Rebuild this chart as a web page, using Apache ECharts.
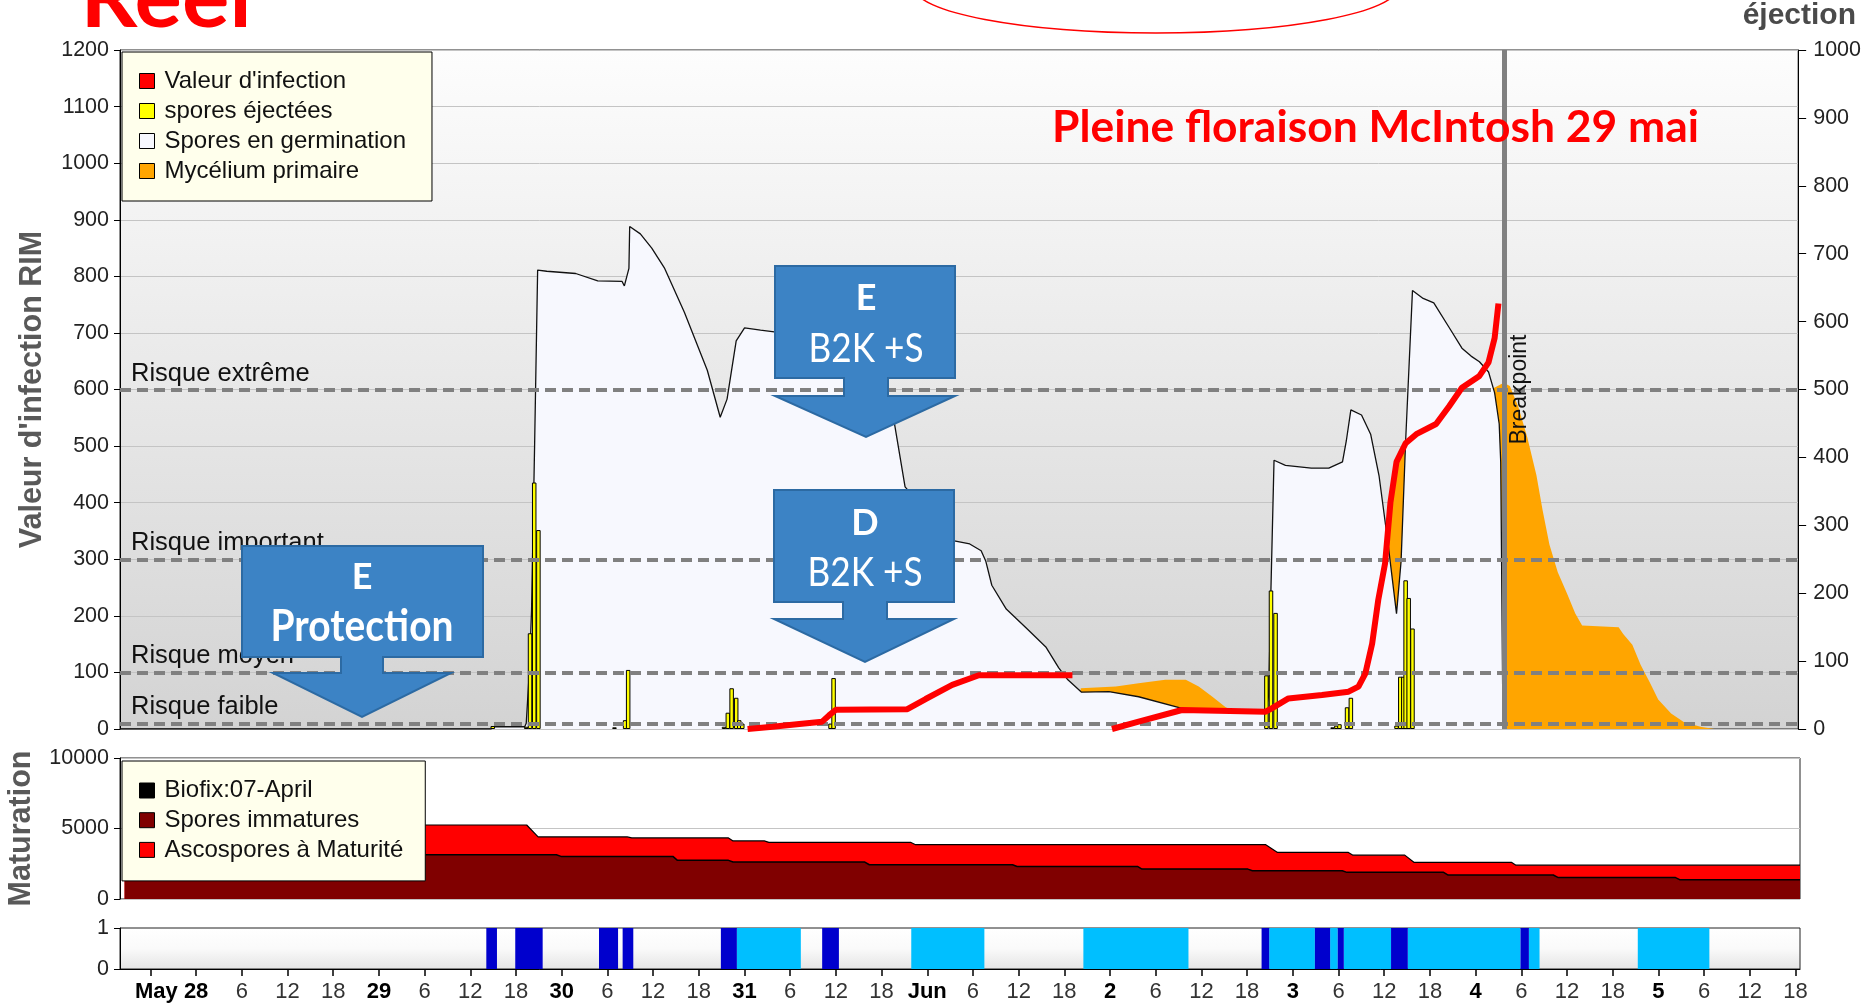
<!DOCTYPE html>
<html><head><meta charset="utf-8">
<script src="https://cdn.jsdelivr.net/npm/echarts@6/dist/echarts.min.js"></script>
<style>html,body{margin:0;padding:0;background:#fff;}#c{width:1864px;height:1008px;}</style>
</head><body><div id="c"></div>
<script>
// ---------- DATA (hours from May 28 00:00) ----------
const germination = [[-10,0],[38.8,0],[39,4],[43.2,4],[43.4,10],[43.8,100],[44.1,210],[44.5,500],[44.9,811],[46.1,809],[49.9,805],[52.8,792],[56.0,791],[56.3,783],[56.9,814],[57.0,888],[58.4,875],[59.9,850],[61.6,814],[64.2,736],[67.2,634],[68.9,551],[69.8,583],[71.0,686],[72.1,709],[74.2,705],[76.0,702],[80,690],[84,662],[86,640],[88,610],[90,575],[91.8,540],[93.2,428],[95,400],[97,365],[99.5,333],[101.7,327],[103.2,315],[103.8,297],[104.6,254],[106.5,212],[109.4,175],[111.7,145],[113.4,108],[114.6,87],[116.4,65],[120.0,66],[123.9,57],[129.6,36.5],[140.6,30.6],[141.0,60],[141.3,250],[141.7,475],[143.2,466],[146.6,461],[148.9,461],[150.7,472],[151.2,509],[151.8,564],[153.2,555],[154.4,521],[155.5,448],[156.7,326],[157.8,204],[158.4,296],[159.0,509],[159.9,775],[161.3,761],[162.7,753],[164.7,710],[166.4,673],[167.6,659],[168.7,649],[169.9,631],[170.7,594],[171.3,539],[171.5,472],[171.8,0]];
const mycelium = [[-10,0],[115.6,0],[116.3,72],[120.9,75],[123.9,81],[127.4,87],[130.1,87],[131.8,75],[133.6,57],[135.3,39],[136.5,30],[141,30],[145,60],[150,150],[153,250],[156,330],[157.8,470],[159,510],[162,540],[166,570],[171.9,612],[172.7,606],[173.8,570],[175.0,515],[176.2,448],[177.0,387],[177.9,326],[179.0,277],[180.2,240],[181.3,204],[182.2,183],[187.0,180],[187.6,168],[188.8,149],[189.9,113],[191.1,82],[192.2,52],[193.9,27.5],[195.6,12],[197.9,3.5],[199.6,0],[210.6,0]];
const infectionSeg1 = [[72.5,0],[75.8,4],[79.3,9],[82.3,13],[83.2,24],[84.1,34],[93.5,35],[95.9,53],[99.4,78],[102.9,95],[115.2,95]];
const infectionSeg2 = [[120.4,0],[123.9,13],[129.6,33.6],[140.6,30.6],[141.4,36.5],[143.6,54],[148.0,60],[151.5,66],[152.8,75],[153.7,98],[154.6,151],[155.4,228],[156.3,293],[157.0,400],[157.8,472],[159.0,505],[160.4,521],[163.0,539],[164.7,570],[166.4,603],[168.7,624],[169.9,648],[170.7,691],[171.2,752]];
const sporesEjected = [[39.0,4.4],[43.4,3.3],[43.9,141],[44.45,363],[45.0,293],[55.0,2.5],[56.4,13],[56.8,87],[69.4,3.3],[69.9,24],[70.4,60],[71.0,46],[71.4,13],[71.8,8],[83.4,8],[83.8,75],[140.7,79],[141.3,204],[141.9,171],[149.4,2.5],[149.9,5],[150.3,7],[151.3,32],[151.8,46],[157.8,5],[158.3,77],[158.7,77],[159.0,219],[159.4,193],[159.9,148]];
const maturationTotal = [[-9.4,5250],[43.4,5250],[44.9,4400],[56.6,4400],[57.2,4330],[69.9,4330],[70.5,4120],[74.6,4120],[75.2,4020],[93.8,4020],[94.4,3860],[140.4,3860],[142.0,3300],[151.3,3300],[151.9,3110],[158.7,3110],[159.9,2600],[172.7,2600],[173.3,2400],[210.6,2400]];
const sporesImmatures = [[-9.4,3140],[47.3,3140],[47.9,3020],[62.6,3020],[63.2,2740],[69.9,2740],[70.5,2620],[87.8,2620],[88.4,2430],[107.2,2430],[107.8,2310],[123.6,2310],[124.2,2120],[138.1,2120],[138.7,2000],[150.5,2000],[151.1,1890],[163.8,1890],[164.4,1700],[178.2,1700],[178.8,1530],[194.2,1530],[194.8,1370],[210.6,1370]];
const biofix = [];
const wetLight = [[71.0,79.4],[93.9,103.5],[116.5,130.3],[140.9,146.9],[148.9,149.9],[150.7,156.9],[159.1,173.9],[175.0,176.4],[189.3,198.7]];
const wetDark = [[38.1,39.5],[41.9,45.5],[52.9,55.4],[56.0,57.4],[68.9,71.0],[82.2,84.4],[139.9,140.9],[146.9,148.9],[149.9,150.7],[156.9,159.1],[173.9,175.0]];
const tickLabels = ['May 28','6','12','18','29','6','12','18','30','6','12','18','31','6','12','18','Jun','6','12','18','2','6','12','18','3','6','12','18','4','6','12','18','5','6','12','18'];
const riskLevels = [10, 100, 300, 600];
const riskNames = ['Risque faible','Risque moyen','Risque important','Risque extrême'];
const breakpointHour = 172;

// ---------- CHART ----------
const FONT = "'Liberation Sans', Arial, sans-serif";
const CAL = "Lato, 'Open Sans', sans-serif";
const labelHours = tickLabels.map((_, i) => i * 6);
const tickHours = [-6].concat(labelHours);
const X_MIN = -10, X_MAX = 210.6;
const plain = (v) => String(v);

const mctx = document.createElement('canvas').getContext('2d');
function fitScale(text, font, target) { mctx.font = font; const w = mctx.measureText(text).width; return w ? target / w : 1; }
function txt(text, x, y, font, fill, align, target, extra) {
  const e = { type: 'text', x: x, y: y, z: 101, style: { text: text, font: font, fill: fill, align: align || 'center', verticalAlign: 'middle' } };
  if (target) e.scaleX = fitScale(text, font, target);
  return Object.assign(e, extra || {});
}
function arrow(x1, x2, yTop, yBox, sL, sR, yStem, hL, hR, tipX, tipY) {
  return { type: 'polygon', z: 100, shape: { points: [[x1,yTop],[x2,yTop],[x2,yBox],[sR,yBox],[sR,yStem],[hR,yStem],[tipX,tipY],[hL,yStem],[sL,yStem],[sL,yBox],[x1,yBox]] },
    style: { fill: '#3c83c5', stroke: '#2c6aa3', lineWidth: 2 } };
}
function wetRender(color) {
  return function (params, api) {
    const s = api.coord([api.value(0), 1]);
    const e = api.coord([api.value(1), 0]);
    return { type: 'rect', shape: { x: s[0], y: s[1], width: e[0] - s[0], height: e[1] - s[1] }, style: { fill: color } };
  };
}

const chart = echarts.init(document.getElementById('c'));
const hidX = (gi) => ({ type: 'value', gridIndex: gi, min: X_MIN, max: X_MAX, show: false });
const yLine = { show: true, onZero: false, lineStyle: { color: '#000' } };

const option = {
  animation: false,
  backgroundColor: '#ffffff',
  grid: [
    { left: 120, top: 50, width: 1680, height: 679, show: true, borderColor: '#222', borderWidth: 1,
      backgroundColor: new echarts.graphic.LinearGradient(0, 0, 0, 1, [{ offset: 0, color: '#fdfdfd' }, { offset: 1, color: '#d3d3d3' }]) },
    { left: 120, top: 758, width: 1680, height: 141, show: true, borderColor: '#222', borderWidth: 1, backgroundColor: '#ffffff' },
    { left: 120, top: 928, width: 1680, height: 41, show: true, borderColor: '#222', borderWidth: 1,
      backgroundColor: new echarts.graphic.LinearGradient(0, 0, 0, 1, [{ offset: 0, color: '#ffffff' }, { offset: 0.5, color: '#fafafa' }, { offset: 1, color: '#e4e4e4' }]) }
  ],
  xAxis: [
    hidX(0), hidX(1),
    { type: 'value', gridIndex: 2, min: X_MIN, max: X_MAX,
      axisLine: { show: true, onZero: false, lineStyle: { color: '#000', width: 1 } },
      axisTick: { show: true, customValues: tickHours, length: 7, lineStyle: { color: '#000', width: 1.5 } },
      axisLabel: { show: true, customValues: labelHours, margin: 12, fontSize: 22, color: '#333', fontFamily: FONT,
        formatter: function (v) {
          const i = Math.round(v / 6); const t = tickLabels[i];
          if (i === 0) return '{first|' + t + '}';
          if (i % 4 === 0) return '{day|' + t + '}';
          return t;
        },
        rich: {
          day: { fontWeight: 'bold', color: '#000', fontSize: 22, fontFamily: FONT },
          first: { fontWeight: 'bold', color: '#000', fontSize: 22, fontFamily: FONT, padding: [0, 49, 0, 0] }
        } },
      splitLine: { show: false } }
  ],
  yAxis: [
    { type: 'value', gridIndex: 0, min: 0, max: 1200, interval: 100,
      axisLine: yLine, axisTick: { show: true, length: 6, lineStyle: { color: '#000' } },
      axisLabel: { fontSize: 21.5, color: '#222', margin: 11, fontFamily: FONT, formatter: plain },
      splitLine: { show: true, lineStyle: { color: '#c4c4c4', width: 1 } } },
    { type: 'value', gridIndex: 0, position: 'right', min: 0, max: 1000, interval: 100,
      axisLine: yLine, axisTick: { show: true, length: 8, lineStyle: { color: '#000' } },
      axisLabel: { fontSize: 21.5, color: '#222', margin: 15, fontFamily: FONT, formatter: plain }, splitLine: { show: false } },
    { type: 'value', gridIndex: 1, min: 0, max: 10000, interval: 5000,
      axisLine: yLine, axisTick: { show: true, length: 6, lineStyle: { color: '#000' } },
      axisLabel: { fontSize: 21.5, color: '#222', margin: 11, fontFamily: FONT, formatter: plain },
      splitLine: { show: true, lineStyle: { color: '#c4c4c4', width: 1 } } },
    { type: 'value', gridIndex: 2, min: 0, max: 1, interval: 1,
      axisLine: yLine, axisTick: { show: true, length: 6, lineStyle: { color: '#000' } },
      axisLabel: { fontSize: 21.5, color: '#222', margin: 11, fontFamily: FONT, formatter: plain }, splitLine: { show: false } }
  ],
  legend: [
    { orient: 'vertical', left: 122, top: 52, icon: 'rect', itemWidth: 15, itemHeight: 15, itemGap: 6,
      padding: [17, 26, 18, 17], backgroundColor: '#ffffec', borderColor: '#000', borderWidth: 1, selectedMode: false,
      itemStyle: { borderColor: '#000', borderWidth: 1 },
      textStyle: { fontSize: 24, color: '#111', fontFamily: FONT, padding: [0, 0, 0, 5] },
      data: [ { name: "Valeur d'infection", itemStyle: { color: '#ff0000' } }, { name: 'spores éjectées', itemStyle: { color: '#ffff00' } },
              { name: 'Spores en germination', itemStyle: { color: '#f7f8fe' } }, { name: 'Mycélium primaire', itemStyle: { color: '#ffa500' } } ] },
    { orient: 'vertical', left: 122, top: 761, icon: 'rect', itemWidth: 15, itemHeight: 15, itemGap: 5.7,
      padding: [17.5, 22, 19, 17], backgroundColor: '#ffffec', borderColor: '#000', borderWidth: 1, selectedMode: false,
      itemStyle: { borderColor: '#000', borderWidth: 1 },
      textStyle: { fontSize: 24, color: '#111', fontFamily: FONT, padding: [0, 0, 0, 5] },
      data: [ { name: 'Biofix:07-April', itemStyle: { color: '#000000' } }, { name: 'Spores immatures', itemStyle: { color: '#800000' } },
              { name: 'Ascospores à Maturité', itemStyle: { color: '#ff0000' } } ] }
  ],
  series: [
    { name: 'Mycélium primaire', type: 'line', xAxisIndex: 0, yAxisIndex: 0, data: mycelium, symbol: 'none', z: 2,
      itemStyle: { color: '#ffa500' }, lineStyle: { width: 0, color: '#ffa500' }, areaStyle: { color: '#ffa500', opacity: 1 } },
    { name: 'Spores en germination', type: 'line', xAxisIndex: 0, yAxisIndex: 0, data: germination, symbol: 'none', z: 3,
      itemStyle: { color: '#f7f8fe' }, lineStyle: { width: 1.3, color: '#111' }, areaStyle: { color: '#f7f8fe', opacity: 1 } },
    { name: 'spores éjectées', type: 'bar', xAxisIndex: 0, yAxisIndex: 1, data: sporesEjected, barWidth: 4.5, z: 4,
      itemStyle: { color: '#ffff00', borderColor: '#000', borderWidth: 1 } },
    { name: "Valeur d'infection", type: 'line', xAxisIndex: 0, yAxisIndex: 0, data: infectionSeg1, symbol: 'none', z: 5,
      itemStyle: { color: '#ff0000' }, lineStyle: { width: 6, color: '#ff0000' } },
    { name: "Valeur d'infection", type: 'line', xAxisIndex: 0, yAxisIndex: 0, data: infectionSeg2, symbol: 'none', z: 5,
      itemStyle: { color: '#ff0000' }, lineStyle: { width: 6, color: '#ff0000' } },
    { name: 'marks', type: 'line', xAxisIndex: 0, yAxisIndex: 0, data: [], z: 20, silent: true,
      markLine: { symbol: ['none', 'none'], silent: true, animation: false,
        data: [ { xAxis: breakpointHour, lineStyle: { color: '#808080', width: 5, type: 'solid' },
                  label: { show: true, formatter: 'Breakpoint', position: 'insideMiddleBottom', distance: [0, 4], fontSize: 23, color: '#111', fontFamily: FONT } } ]
          .concat(riskLevels.map((v, i) => ({ yAxis: v, lineStyle: { color: '#808080', width: 4, type: [11, 6] },
                  label: { show: true, formatter: riskNames[i], position: 'insideStartTop', distance: [11, 3], fontSize: 25.5, color: '#111', fontFamily: FONT } }))) } },
    { name: 'Ascospores à Maturité', type: 'line', xAxisIndex: 1, yAxisIndex: 2, data: maturationTotal, symbol: 'none', z: 2,
      itemStyle: { color: '#ff0000' }, lineStyle: { width: 1.2, color: '#000' }, areaStyle: { color: '#ff0000', opacity: 1 } },
    { name: 'Spores immatures', type: 'line', xAxisIndex: 1, yAxisIndex: 2, data: sporesImmatures, symbol: 'none', z: 3,
      itemStyle: { color: '#800000' }, lineStyle: { width: 1.5, color: '#000' }, areaStyle: { color: '#800000', opacity: 1 } },
    { name: 'Biofix:07-April', type: 'line', xAxisIndex: 1, yAxisIndex: 2, data: biofix, itemStyle: { color: '#000' } },
    { name: 'wetLight', type: 'custom', xAxisIndex: 2, yAxisIndex: 3, data: wetLight, encode: { x: [0, 1] }, renderItem: wetRender('#00bfff'), z: 2 },
    { name: 'wetDark', type: 'custom', xAxisIndex: 2, yAxisIndex: 3, data: wetDark, encode: { x: [0, 1] }, renderItem: wetRender('#0000cd'), z: 3 }
  ],
  graphic: [
    { type: 'ellipse', z: 100, shape: { cx: 1156, cy: -13, rx: 242, ry: 46 }, style: { fill: 'none', stroke: '#ff0000', lineWidth: 1.5 } },
    txt('Reel', 166, 0, 'bold 84px ' + CAL, '#ff0000', 'center', 171),
    txt('Pleine floraison McIntosh 29 mai', 1052, 128, 'bold 44px ' + CAL, '#ff0000', 'left', 647),
    txt('éjection', 1856, 16, 'bold 30px ' + FONT, '#4a4a4a', 'right'),
    txt("Valeur d'infection RIM", 33, 389.5, 'bold 30.5px ' + FONT, '#595959', 'center', null, { rotation: Math.PI / 2 }),
    txt('Maturation', 22, 828.5, 'bold 30.5px ' + FONT, '#595959', 'center', null, { rotation: Math.PI / 2 }),
    arrow(242, 483, 546, 657, 341, 383, 673, 273, 451, 362, 717),
    txt('E', 362, 577, 'bold 36px ' + CAL, '#ffffff'),
    txt('Protection', 362, 627.5, 'bold 43px ' + CAL, '#ffffff', 'center', 183),
    arrow(775, 955, 266, 378, 844, 888, 396, 775, 955, 866, 437),
    txt('E', 866, 298, 'bold 36px ' + CAL, '#ffffff'),
    txt('B2K +S', 866, 349, '41px ' + CAL, '#ffffff', 'center', 115),
    arrow(774, 954, 490, 602, 843, 887, 619, 774, 954, 865, 662),
    txt('D', 865, 523, 'bold 36px ' + CAL, '#ffffff'),
    txt('B2K +S', 865, 573, '41px ' + CAL, '#ffffff', 'center', 115)
  ]
};
chart.setOption(option);
</script></body></html>
